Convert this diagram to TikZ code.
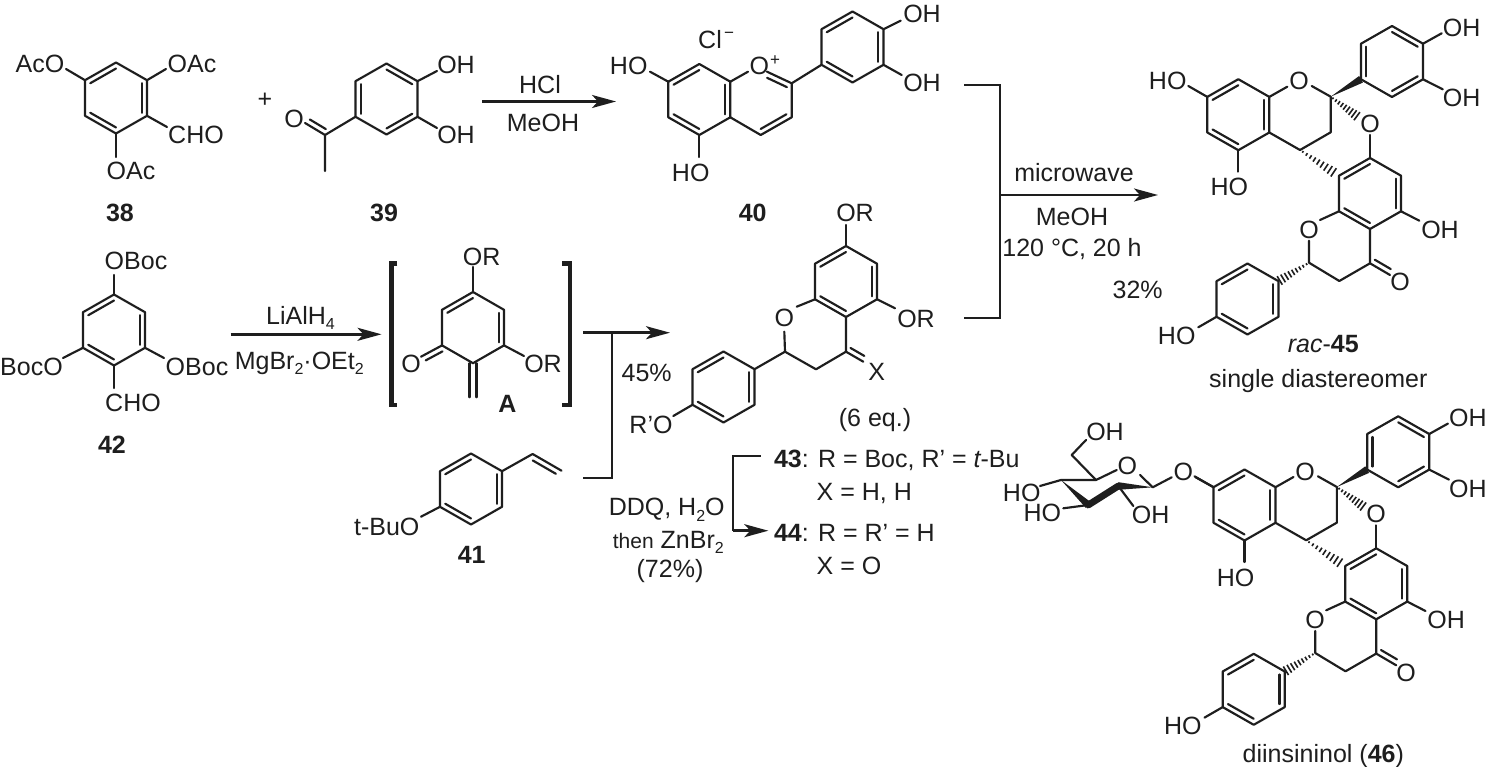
\documentclass[tikz,border=0pt]{standalone}
\usepackage{fontspec}
\setmainfont{Liberation Sans}
\usetikzlibrary{calc,arrows.meta}
\definecolor{ink}{HTML}{1E1E1E}
\tikzset{
  bond/.style={line width=2.15pt,line cap=round,line join=round,draw=ink},
  bracketline/.style={line width=2pt,line cap=butt,line join=miter,draw=ink},
  thickbracket/.style={line width=4.6pt,line cap=butt,line join=miter,draw=ink},
  arrowline/.style={line width=2.6pt,draw=ink,-{Stealth[length=24pt,width=13pt,inset=6pt]}},
  chem/.style={inner sep=0pt,outer sep=0pt,anchor=base,font=\fontsize{25}{29}\selectfont,text=ink},
  boldlab/.style={font=\fontsize{25}{29}\selectfont\bfseries},
  tinyt/.style={font=\fontsize{17}{19}\selectfont},
  leftw/.style={anchor=base west}
}
\newcommand\sbs[1]{\raisebox{-5.5pt}{\fontsize{16}{16}\selectfont #1}}
\newcommand\hexring[4]{%
  \coordinate (#1c) at (#2,#3);
  \coordinate (#11) at ($(#1c)+(0,-35.5)$);
  \coordinate (#12) at ($(#1c)+(31,-17.8)$);
  \coordinate (#13) at ($(#1c)+(31,17.8)$);
  \coordinate (#14) at ($(#1c)+(0,35.5)$);
  \coordinate (#15) at ($(#1c)+(-31,17.8)$);
  \coordinate (#16) at ($(#1c)+(-31,-17.8)$);
  \draw[bond] (#11)--(#12)--(#13)--(#14)--(#15)--(#16)--cycle;
  \foreach \a/\b in {#4} {\draw[bond] ($(#1\a)!0.17!(#1c)$) -- ($(#1\b)!0.17!(#1c)$);}
}
\newcommand\lab[5][]{\node[chem,#1] (#2) at ({#3},{#4+9}) {#5};}
\newcommand\bnd[4]{\coordinate (#2) at (#3,#4); \draw[bond] (#1) -- (#2);}
\newcommand\atom[3]{\coordinate (#1) at (#2,#3);}
\newcommand\dbl[3]{\draw[bond] ($(#1)!.1!(#2)!5.5pt!#3:(#2)$) -- ($(#2)!.1!(#1)!5.5pt!#3:(#2)$);}
\newcommand\wedgeb[2]{\fill[ink] (#1) -- ($(#2)!3.8pt!90:(#1)$) -- ($(#2)!3.8pt!-90:(#1)$) -- cycle;}
\newcommand\hashb[2]{\foreach \t in {0.08,0.19,...,1.0} {\pgfmathsetmacro\hw{0.6+4.6*\t}
  \draw[line width=1.6pt,draw=ink] ($(#1)!\t!(#2)!\hw pt!90:(#2)$) -- ($(#1)!\t!(#2)!\hw pt!-90:(#2)$);}}
\newcommand\dimercore[1]{%
  \hexring{#1A}{1238.3}{114.7}{6/1,2/3,5/4}
  \atom{#1C2}{1330.7}{96.7}\atom{#1C3}{1330.7}{132.3}\atom{#1C4}{1300}{150}
  \atom{#1Oa}{1287.3}{86.7}\atom{#1Ob}{1311.7}{86}
  \draw[bond] (#1A2)--(#1Oa);
  \draw[bond] (#1Ob)--(#1C2)--(#1C3)--(#1C4)--(#1A3);
  \lab{#1Otxt}{1299}{80.7}{O}
  \bnd{#1A6}{#1h1}{1188.3}{86}
  \bnd{#1A4}{#1h2}{1238.3}{171.7}
  \lab{#1HOb}{1229.3}{186.7}{HO}
  \hexring{#1P}{1392}{61.5}{1/2,6/5,3/4}
  \wedgeb{#1C2}{#1P5}
  \bnd{#1P2}{#1h3}{1441.7}{33.3}
  \bnd{#1P3}{#1h4}{1442.7}{89.3}
  \lab{#1OHa}{1461.7}{27.3}{OH}
  \lab{#1OHb}{1461.7}{97.7}{OH}
  \atom{#1Hx}{1358}{117}
  \hashb{#1C2}{#1Hx}
  \lab{#1Olink}{1370}{123.3}{O}
  \hexring{#1R}{1370}{193.5}{6/1,2/3,5/4}
  \atom{#1Oc}{1370}{135}
  \draw[bond] (#1Oc)--(#1R1);
  \atom{#1Hy}{1335}{173.3}
  \hashb{#1C4}{#1Hy}
  \bnd{#1R3}{#1h5}{1419.3}{220.7}
  \lab{#1OHc}{1440}{229.3}{OH}
  \bnd{#1R5}{#1h6}{1320}{220}
  \lab{#1Oring}{1309}{229.3}{O}
  \atom{#1Od}{1309}{240.7}\atom{#1Ca}{1309}{262.7}\atom{#1Cb}{1339.3}{281}\atom{#1Cc}{1370}{263.3}
  \draw[bond] (#1Od)--(#1Ca)--(#1Cb)--(#1Cc)--(#1R4);
  \atom{#1Ke}{1390}{275}
  \draw[bond] (#1Cc)--(#1Ke);
  \dbl{#1Cc}{#1Ke}{90}
  \lab{#1Oket}{1400}{281.7}{O}
  \hexring{#1Q}{1247.5}{299}{6/1,2/3,5/4}
  \hashb{#1Ca}{#1Q2}
  \bnd{#1Q5}{#1h7}{1198.3}{327.3}
  \lab{#1HOc}{1176.7}{335}{HO}
}
\begin{document}
\begin{tikzpicture}[x=1pt,y=-1pt]
\useasboundingbox (0,0) rectangle (1488,767);
\fill[white] (0,0) rectangle (1488,767);

% 38
\hexring{a}{116}{98}{6/1,2/3,5/4}
\bnd{a6}{a6x}{66}{69}
\bnd{a2}{a2x}{166}{69}
\bnd{a3}{a3x}{167}{127}
\bnd{a4}{a4x}{116}{157}
\lab{t38a}{40}{64}{AcO}
\lab{t38b}{192}{64}{OAc}
\lab{t38c}{196}{135}{CHO}
\lab{t38d}{131}{171}{OAc}
\lab[boldlab]{n38}{120}{213}{38}
\lab{plus}{265}{99}{+}

% 39
\hexring{b}{386.5}{99}{1/2,6/5,3/4}
\bnd{b2}{b2x}{437}{71}
\bnd{b3}{b3x}{437}{128}
\lab{t39a}{456}{65}{OH}
\lab{t39b}{456}{135}{OH}
\atom{bC}{325}{135}\atom{bMe}{325}{171}\atom{bO}{305}{123}
\draw[bond] (b5)--(bC)--(bMe);
\draw[bond] (bC)--(bO);
\dbl{bC}{bO}{-90}
\lab{t39o}{294}{119}{O}
\lab[boldlab]{n39}{384}{213}{39}

% arrow 1
\atom{ar1s}{482}{101.5}\atom{ar1e}{616}{101.5}
\draw[arrowline] (ar1s)--(ar1e);
\lab{hcl}{540}{85}{HCl}
\lab{meoh1}{543}{123}{MeOH}

% 40
\hexring{c}{699.3}{99.5}{6/1,2/3,5/4}
\atom{cOa}{748}{71.7}\atom{cOb}{767}{71.7}
\atom{cC2}{791.7}{83.3}\atom{cC3}{791.7}{117.3}\atom{cC4}{760.7}{135}\atom{cB}{760.5}{99.5}
\draw[bond] (c2)--(cOa);
\draw[bond] (cOb)--(cC2)--(cC3)--(cC4)--(c3);
\dbl{cOb}{cC2}{-90}
\draw[bond] ($(cC3)!0.17!(cB)$) -- ($(cC4)!0.17!(cB)$);
\lab{t40o}{759.3}{66}{O}
\lab[tinyt]{t40p}{775}{57}{+}
\lab{t40cl}{710}{40}{Cl}
\lab[tinyt]{t40m}{729}{30}{−}
\bnd{c6}{c6x}{650}{71.7}
\lab{t40ho}{628.7}{66}{HO}
\bnd{c4}{c4x}{699.3}{157}
\lab{t40hob}{690.7}{172.3}{HO}
\hexring{d}{852.5}{47}{6/1,2/3,5/4}
\draw[bond] (cC2)--(d5);
\bnd{d2}{d2x}{900.7}{20.7}
\bnd{d3}{d3x}{901.7}{75}
\lab{t40oh}{922}{14}{OH}
\lab{t40ohb}{922}{83}{OH}
\lab[boldlab]{n40}{752.7}{212.7}{40}

% merging bracket
\atom{mA}{964}{85}\atom{mB}{1000}{85}\atom{mC}{1000}{318}\atom{mD}{964}{318}
\draw[bracketline] (mA)--(mB)--(mC)--(mD);
\atom{ar3s}{1000}{195}\atom{ar3e}{1158}{195}
\draw[arrowline] (ar3s)--(ar3e);
\lab{mw}{1074}{172.7}{microwave}
\lab{meoh2}{1072}{216.7}{MeOH}
\lab{temp}{1072}{248}{120 °C, 20 h}
\lab{y32}{1137.7}{289.3}{32\%}

% 45
\dimercore{e}
\lab{t45ho}{1167.7}{80.7}{HO}
\lab{n45}{1323.3}{343.3}{{\itshape rac}-{\bfseries 45}}
\lab{sd}{1318.3}{378.3}{single diastereomer}

% 42
\hexring{f}{114}{330}{6/1,2/3,5/4}
\bnd{f1}{f1x}{114}{275}
\bnd{f3}{f3x}{164}{358}
\bnd{f5}{f5x}{63}{358}
\bnd{f4}{f4x}{114}{388}
\lab{t42a}{136}{260.7}{OBoc}
\lab{t42b}{197}{366.7}{OBoc}
\lab{t42c}{31.5}{366.7}{BocO}
\lab{t42d}{133}{402.3}{CHO}
\lab[boldlab]{n42}{112}{444}{42}

% arrow 2
\atom{ar2s}{230.5}{334.3}\atom{ar2e}{381.5}{334.3}
\draw[arrowline] (ar2s)--(ar2e);
\lab{lah}{300.5}{315}{LiAlH\sbs{4}}
\lab{mgbr}{299.3}{360}{MgBr\sbs{2}·OEt\sbs{2}}

% A
\atom{lA}{397.4}{263.3}\atom{lB}{391.5}{263.3}\atom{lC}{391.5}{405}\atom{lD}{397.4}{405}
\draw[thickbracket] (lA)--(lB)--(lC)--(lD);
\atom{rA}{562.3}{263.3}\atom{rB}{570}{263.3}\atom{rC}{570}{405}\atom{rD}{562.3}{405}
\draw[thickbracket] (rA)--(rB)--(rC)--(rD);
\coordinate (g1) at (473,292); \coordinate (g2) at (504,309.8); \coordinate (g3) at (504,345.4);
\coordinate (g4) at (473,363.2); \coordinate (g5) at (442,345.4); \coordinate (g6) at (442,309.8);
\coordinate (gc) at (473,327.6);
\draw[bond] (g1)--(g2)--(g3)--(g4)--(g5)--(g6)--cycle;
\draw[bond] ($(g6)!0.17!(gc)$) -- ($(g1)!0.17!(gc)$);
\draw[bond] ($(g2)!0.17!(gc)$) -- ($(g3)!0.17!(gc)$);
\atom{gt}{473}{267}\draw[bond] (g1)--(gt);
\lab{tAa}{481.6}{256.7}{OR}
\atom{gO}{421}{356.7}\draw[bond] (g5)--(gO);
\dbl{g5}{gO}{90}
\lab{tAo}{411.2}{363.3}{O}
\atom{gR}{524}{356}\draw[bond] (g3)--(gR);
\lab{tAr}{543}{363.3}{OR}
\atom{gex}{473}{397.3}
\draw[bond] ($(g4)+(-3.5,0)$) -- ($(gex)+(-3.5,0)$);
\draw[bond] ($(g4)+(3.5,0)$) -- ($(gex)+(3.5,0)$);
\lab[boldlab]{nA}{507.3}{403.3}{A}

% cycloaddition arrow
\atom{ar4s}{583.3}{332.7}\atom{ar4e}{670}{332.7}
\draw[arrowline] (ar4s)--(ar4e);
\atom{jA}{611.7}{332.7}\atom{jB}{611.7}{478.3}\atom{jC}{582.7}{478.3}
\draw[bracketline] (jA)--(jB)--(jC);
\lab{y45}{646.7}{372.7}{45\%}

% 41
\hexring{h}{471}{489}{6/1,2/3,5/4}
\atom{hV}{532.6}{454}\atom{hW}{561.5}{470.7}
\draw[bond] (h2)--(hV)--(hW);
\dbl{hV}{hW}{-90}
\bnd{h5}{h5x}{421}{516.7}
\lab{t41}{386.7}{526.7}{t-BuO}
\lab[boldlab]{n41}{471.7}{554}{41}

% 43 / 44
\hexring{k}{846}{281.5}{6/1,2/3,5/4}
\bnd{k1}{k1x}{846}{225}
\lab{t43a}{855}{212.7}{OR}
\bnd{k3}{k3x}{895}{308.3}
\lab{t43b}{916}{318.3}{OR}
\bnd{k5}{k5x}{796.7}{306.7}
\lab{t43o}{784.3}{317.7}{O}
\atom{kOb}{784.3}{331.7}\atom{kC2}{785}{351.7}\atom{kC3}{816}{369.3}\atom{kC4}{846}{351.7}
\draw[bond] (kOb)--(kC2)--(kC3)--(kC4)--(k4);
\atom{kX}{863.3}{361.7}\draw[bond] (kC4)--(kX);
\dbl{kC4}{kX}{90}
\lab{t43x}{876.7}{371.7}{X}
\hexring{l}{723.5}{387}{6/1,2/3,5/4}
\draw[bond] (kC2)--(l2);
\bnd{l5}{l5x}{673.3}{416}
\lab{t43ro}{651}{424.3}{R’O}
\lab{eq}{875}{417.3}{(6 eq.)}
\lab[leftw]{l43a}{774}{458.3}{{\bfseries 43}: R = Boc, R’ = {\itshape t}-Bu}
\lab[leftw]{l43b}{816.7}{491.7}{X = H, H}
\lab[leftw]{l44a}{774}{532.3}{{\bfseries 44}: R = R’ = H}
\lab[leftw]{l44b}{816.7}{565.7}{X = O}
\atom{uA}{760.7}{455.7}\atom{uB}{733.3}{455.7}\atom{uC}{733.3}{530.7}\atom{uD}{768.3}{530.7}
\draw[bracketline] (uA)--(uB)--(uC);
\draw[arrowline] (uC)--(uD);
\lab{ddq}{666.7}{506.7}{DDQ, H\sbs{2}O}
\lab{thn}{668.3}{539}{{\fontsize{21}{24}\selectfont then} ZnBr\sbs{2}}
\lab{y72}{670}{568.3}{(72\%)}

% 46
\begin{scope}[shift={(6.2,390.3)}]
\dimercore{m}
\end{scope}
\bnd{mA6}{ml}{1195.7}{477.3}
\lab{tO46}{1183.3}{471.7}{O}
\atom{s1a}{1171.7}{477.3}\atom{sC1}{1152.7}{487.3}\atom{sOa}{1140}{475}
\atom{sOb}{1116.7}{470}\atom{sC5}{1096}{480}\atom{sC4}{1061}{480}\atom{sC3}{1088.3}{505}\atom{sC2}{1118.3}{486}
\draw[bond] (s1a)--(sC1)--(sOa);
\draw[bond] (sOb)--(sC5)--(sC4);
\lab{tOs}{1127.3}{465}{O}
\wedgeb{sC4}{sC3}
\draw[line width=6.8pt,line cap=round,draw=ink] (sC3)--(sC2);
\wedgeb{sC1}{sC2}
\atom{sCH}{1071.7}{455}\atom{sOH}{1086}{440}
\draw[bond] (sC5)--(sCH)--(sOH);
\lab{tOH1}{1105}{431.7}{OH}
\bnd{sC4}{s4x}{1040}{486}
\lab{tHO1}{1021.7}{492.7}{HO}
\bnd{sC3}{s3x}{1063.3}{508.3}
\lab{tHO2}{1042.3}{512.7}{HO}
\bnd{sC2}{s2x}{1133.3}{506}
\lab{tOH2}{1150.7}{514}{OH}
\lab{n46}{1323.3}{753.3}{diinsininol ({\bfseries 46})}
\end{tikzpicture}
\end{document}
